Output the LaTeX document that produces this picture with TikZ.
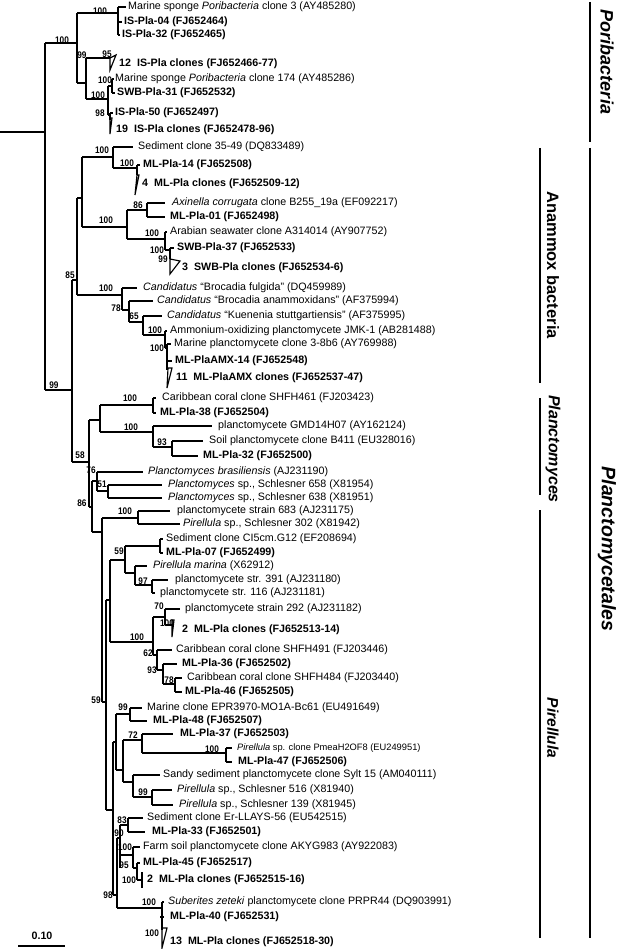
\documentclass[tikz,border=0pt]{standalone}
\usepackage{fontspec}
\setmainfont{Liberation Sans}
\newfontfamily\bsfam[FakeStretch=0.86]{Liberation Sans}
\newcommand\ND[6]{\coordinate (#1) at (#2,#5);\draw[br] (#2,#3) -- (#2,#4);\draw[br] (#6,#5) -- (#1);}
\newcommand\LV[6]{\draw[br] (#2,#4) -- (#3,#4);\node[lf] (#1) at (#5,#4) {#6};}
\newcommand\LB[6]{\draw[br] (#2,#4) -- (#3,#4);\node[lfb] (#1) at (#5,#4) {#6};}
\newcommand\BS[3]{\node[bsl] at (#1,#2) {#3};}
\tikzset{
 br/.style={line width=1.15pt},
 lf/.style={anchor=west, inner sep=0pt, font=\fontsize{10.7}{12}\selectfont},
 lfb/.style={anchor=west, inner sep=0pt, font=\fontsize{10.7}{12}\selectfont\bfseries},
 bsl/.style={inner sep=0pt, font=\bsfam\bfseries\fontsize{9.6}{10}\selectfont},
 brk/.style={line width=2.5pt},
 clab/.style={rotate=-90, inner sep=0pt, font=\bfseries}
}
\begin{document}
\begin{tikzpicture}[x=1pt,y=-1pt]
\useasboundingbox (0,0) rectangle (627,949);
% root
\coordinate (root) at (0,132);
\draw[br] (root) -- (45,132);
\draw[br] (45,43) -- (45,390);
% ---------------- Poribacteria
\ND{A}{77}{13}{83}{43}{45} \BS{62}{40}{100}
\ND{A1}{118}{7}{35}{13}{77} \BS{100}{11}{100}
\LV{L1}{118}{126}{7}{128}{Marine sponge \textit{Poribacteria} clone 3 (AY485280)}
\LB{L2}{118}{122}{22}{124}{IS-Pla-04 (FJ652464)}
\LB{L3}{118}{120}{35}{122}{IS-Pla-32 (FJ652465)}
\ND{A2}{86}{58}{99}{83}{77} \BS{82}{55}{99}
\draw[br] (86,58) -- (110,58); \BS{107}{54}{95}
\draw[br] (110,58) -- (116,55) -- (110,70) -- cycle;
\node[lfb] (L4) at (119,64) {12\ \ IS-Pla clones (FJ652466-77)};
\ND{A3}{108}{86}{115}{99}{86} \BS{98}{95}{100}
\ND{A31}{112}{79}{93}{86}{108} \BS{105}{80}{100}
\LV{L5}{112}{114}{79}{115}{Marine sponge \textit{Poribacteria} clone 174 (AY485286)}
\LB{L6}{112}{115}{93}{117}{SWB-Pla-31 (FJ652532)}
\ND{A32}{110}{113}{120}{115}{108} \BS{100}{113}{98}
\LB{L7}{110}{113}{113}{115}{IS-Pla-50 (FJ652497)}
\draw[br] (110,118) -- (112,118) -- (110,134) -- cycle;
\node[lfb] (L8) at (116,130) {19\ \ IS-Pla clones (FJ652478-96)};
% ---------------- Anammox
\ND{P99}{72}{280}{462}{390}{45} \BS{54}{385}{99}
\ND{AN85}{77}{198}{295}{280}{72} \BS{70}{275}{85}
\ND{AN1}{82}{157}{227}{198}{77}
\ND{N1}{113}{147}{168}{157}{82} \BS{102}{150}{100}
\LV{L9}{113}{133}{147}{138}{Sediment clone 35-49 (DQ833489)}
\ND{N2}{137}{165}{175}{168}{113} \BS{127}{163}{100}
\LB{L10}{137}{140}{165}{143}{ML-Pla-14 (FJ652508)}
\draw[br] (137,175) -- (139,175) -- (135,195) -- cycle;
\node[lfb] (L11) at (142,184) {4\ \ ML-Pla clones (FJ652509-12)};
\ND{NAX}{127}{210}{239}{227}{82} \BS{106}{220}{100}
\ND{N86}{147}{203}{217}{210}{127} \BS{138}{205}{86}
\LV{L12}{147}{165}{203}{172}{\textit{Axinella corrugata} clone B255\_19a (EF092217)}
\LB{L13}{147}{165}{217}{170}{ML-Pla-01 (FJ652498)}
\ND{NAR}{165}{232}{250}{239}{127} \BS{152}{233}{100}
\LV{L14}{165}{167}{232}{170}{Arabian seawater clone A314014 (AY907752)}
\ND{NSW}{170}{248}{259}{250}{165} \BS{157}{250}{100}
\LB{L15}{170}{174}{248}{177}{SWB-Pla-37 (FJ652533)}
\draw[br] (170,259) -- (180,261) -- (170,274) -- cycle; \BS{163}{259}{99}
\node[lfb] (L16) at (182,268) {3\ \ SWB-Pla clones (FJ652534-6)};
\ND{B1}{122}{288}{310}{295}{77} \BS{106}{288}{100}
\LV{L17}{122}{137}{288}{143}{\textit{Candidatus} “Brocadia fulgida” (DQ459989)}
\ND{B2}{129}{301}{322}{310}{122} \BS{116}{308}{78}
\LV{L18}{129}{153}{301}{157}{\textit{Candidatus} “Brocadia anammoxidans” (AF375994)}
\ND{B3}{143}{316}{335}{322}{129} \BS{134}{316}{65}
\LV{L19}{143}{162}{316}{167}{\textit{Candidatus} “Kuenenia stuttgartiensis” (AF375995)}
\ND{B4}{165}{331}{348}{335}{143} \BS{155}{330}{100}
\LV{L20}{165}{167}{331}{170}{Ammonium-oxidizing planctomycete JMK-1 (AB281488)}
\ND{B5}{167}{344}{370}{348}{165} \BS{157}{348}{100}
\LV{L21}{167}{171}{344}{174}{Marine planctomycete clone 3-8b6 (AY769988)}
\LB{L22}{167}{172}{361}{175}{ML-PlaAMX-14 (FJ652548)}
\draw[br] (168,368) -- (172,368) -- (167,388) -- cycle;
\node[lfb] (L23) at (176,378) {11\ \ ML-PlaAMX clones (FJ652537-47)};
% ---------------- Planctomyces
\ND{P58}{89}{420}{507}{462}{72} \BS{80}{455}{58}
\ND{PA}{100}{405}{432}{420}{89}
\ND{PC1}{153}{398}{413}{405}{100} \BS{130}{398}{100}
\LV{L24}{153}{156}{398}{162}{Caribbean coral clone SHFH461 (FJ203423)}
\LB{L25}{153}{156}{413}{160}{ML-Pla-38 (FJ652504)}
\ND{PB}{153}{426}{447}{432}{100} \BS{131}{427}{100}
\LV{L26}{153}{212}{426}{218}{planctomycete GMD14H07 (AY162124)}
\ND{PD}{172}{441}{456}{447}{153} \BS{162}{442}{93}
\LV{L27}{172}{203}{441}{209}{Soil planctomycete clone B411 (EU328016)}
\LB{L28}{172}{198}{456}{203}{ML-Pla-32 (FJ652500)}
\ND{P86}{92}{481}{532}{507}{89} \BS{82}{503}{86}
\ND{P76}{97}{472}{491}{481}{92} \BS{91}{470}{76}
\LV{L29}{97}{143}{472}{148}{\textit{Planctomyces brasiliensis} (AJ231190)}
\ND{P51}{108}{485}{498}{491}{97} \BS{102}{484}{51}
\LV{L30}{108}{162}{485}{168}{\textit{Planctomyces} sp., Schlesner 658 (X81954)}
\LV{L31}{108}{162}{498}{168}{\textit{Planctomyces} sp., Schlesner 638 (X81951)}
% ---------------- Pirellula
\ND{Q}{102}{518}{702}{532}{92}
\ND{PP}{138}{511}{524}{518}{102} \BS{125}{511}{100}
\LV{L32}{138}{170}{511}{177}{planctomycete strain 683 (AJ231175)}
\LV{L33}{138}{180}{524}{183}{\textit{Pirellula} sp., Schlesner 302 (X81942)}
\ND{Q59}{106}{600}{810}{702}{102} \BS{96}{700}{59}
\ND{X1}{110}{560}{642}{600}{106}
\ND{S59}{125}{546}{573}{560}{110} \BS{119}{551}{59}
\ND{S1}{160}{539}{553}{546}{125}
\LV{L34}{160}{163}{539}{166}{Sediment clone CI5cm.G12 (EF208694)}
\LB{L35}{160}{163}{553}{166}{ML-Pla-07 (FJ652499)}
\ND{M}{135}{566}{585}{573}{125}
\LV{L36}{135}{147}{566}{153}{\textit{Pirellula marina} (X62912)}
\ND{M97}{152}{580}{593}{585}{135} \BS{143}{581}{97}
\LV{L37}{152}{168}{580}{175}{planctomycete str. 391 (AJ231180)}
\LV{L38}{152}{155}{593}{160}{planctomycete str. 116 (AJ231181)}
\ND{T100}{153}{617}{655}{642}{110} \BS{137}{637}{100}
\ND{T70}{165}{609}{625}{617}{153} \BS{159}{606}{70}
\LV{L39}{165}{180}{609}{185}{planctomycete strain 292 (AJ231182)}
\draw[br] (165,625) -- (172,625); \draw[br] (172,620) -- (174,620) -- (172,637) -- cycle; \BS{167}{623}{100}
\node[lfb] (L40) at (182,630) {2\ \ ML-Pla clones (FJ652513-14)};
\ND{W62}{157}{650}{670}{655}{153} \BS{148}{653}{62}
\LV{L41}{157}{172}{650}{176}{Caribbean coral clone SHFH491 (FJ203446)}
\ND{W93}{163}{664}{684}{670}{157} \BS{152}{670}{93}
\LB{L42}{163}{177}{664}{182}{ML-Pla-36 (FJ652502)}
\ND{W78}{175}{678}{692}{684}{163} \BS{169}{680}{78}
\LV{L43}{175}{182}{678}{187}{Caribbean coral clone SHFH484 (FJ203440)}
\LB{L44}{175}{182}{692}{185}{ML-Pla-46 (FJ652505)}
\ND{X2}{113}{742}{895}{810}{106}
\ND{V}{116}{714}{770}{742}{113}
\ND{V99}{130}{708}{721}{714}{116} \BS{123}{707}{99}
\LV{L45}{130}{142}{708}{147}{Marine clone EPR3970-MO1A-Bc61 (EU491649)}
\LB{L46}{130}{147}{721}{153}{ML-Pla-48 (FJ652507)}
\ND{U}{123}{740}{782}{770}{116}
\ND{U72}{142}{734}{753}{740}{123} \BS{133}{735}{72}
\LB{L47}{142}{173}{734}{180}{ML-Pla-37 (FJ652503)}
\ND{U100}{226}{748}{762}{753}{142} \BS{212}{749}{100}
\draw[br] (226,748) -- (232,748);
\node[anchor=west, inner sep=0pt, font=\fontsize{9.3}{11}\selectfont] (L48) at (237,748) {\textit{Pirellula} sp. clone PmeaH2OF8 (EU249951)};
\LB{L49}{226}{232}{762}{238}{ML-Pla-47 (FJ652506)}
\ND{R}{133}{775}{797}{782}{123}
\LV{L50}{133}{160}{775}{163}{Sandy sediment planctomycete clone Sylt 15 (AM040111)}
\ND{R99}{152}{790}{805}{797}{133} \BS{143}{792}{99}
\LV{L51}{152}{172}{790}{177}{\textit{Pirellula} sp., Schlesner 516 (X81940)}
\LV{L52}{152}{173}{805}{179}{\textit{Pirellula} sp., Schlesner 139 (X81945)}
\ND{YG}{117}{838}{908}{895}{113} \BS{108}{895}{98}
\ND{Y90}{120}{825}{868}{838}{117} \BS{119}{833}{90}
\ND{Y83}{128}{818}{832}{825}{120} \BS{122}{820}{83}
\LV{L53}{128}{143}{818}{147}{Sediment clone Er-LLAYS-56 (EU542515)}
\LB{L54}{128}{145}{832}{152}{ML-Pla-33 (FJ652501)}
\ND{Z100}{133}{847}{868}{855}{120} \BS{125}{847}{100}
\LV{L55}{133}{140}{847}{143}{Farm soil planctomycete clone AKYG983 (AY922083)}
\ND{Z95}{137}{863}{880}{868}{133} \BS{124}{865}{95}
\LB{L56}{137}{140}{863}{143}{ML-Pla-45 (FJ652517)}
\draw[br] (137,880) -- (142,880); \draw[br] (142,872) -- (142,888); \BS{129}{880}{100}
\node[lfb] (L57) at (147,880) {2\ \ ML-Pla clones (FJ652515-16)};
\ND{SU}{162}{902}{930}{908}{117} \BS{149}{902}{100}
\LV{L58}{162}{164}{902}{168}{\textit{Suberites zeteki} planctomycete clone PRPR44 (DQ903991)}
\LB{L59}{160}{164}{917}{170}{ML-Pla-40 (FJ652531)}
\draw[br] (162,928) -- (167,928) -- (162,948) -- cycle; \BS{152}{933}{100}
\node[lfb] (L60) at (170,942) {13\ \ ML-Pla clones (FJ652518-30)};
% ---------------- scale bar
\node[inner sep=0pt, font=\fontsize{10.7}{12}\selectfont\bfseries] (sc) at (42,936) {0.10};
\coordinate (sb1) at (18,946); \coordinate (sb2) at (65,946);
\draw[br] (sb1) -- (sb2);
% ---------------- clade brackets
\coordinate (k1a) at (590,2); \coordinate (k1b) at (590,142);
\draw[brk] (k1a) -- (k1b);
\node[clab, font=\fontsize{18}{20}\selectfont\bfseries\itshape] (c1) at (607,62) {Poribacteria};
\coordinate (k2a) at (540,148); \coordinate (k2b) at (540,383);
\draw[brk] (k2a) -- (k2b);
\node[clab, font=\fontsize{16.5}{18}\selectfont\bfseries] (c2) at (553,265) {Anammox bacteria};
\coordinate (k3a) at (540,398); \coordinate (k3b) at (540,495);
\draw[brk] (k3a) -- (k3b);
\node[clab, font=\fontsize{16}{18}\selectfont\bfseries\itshape] (c3) at (553,449) {Planctomyces};
\coordinate (k4a) at (540,510); \coordinate (k4b) at (540,938);
\draw[brk] (k4a) -- (k4b);
\node[clab, font=\fontsize{15.5}{18}\selectfont\bfseries\itshape] (c4) at (553,728) {Pirellula};
\coordinate (k5a) at (590,148); \coordinate (k5b) at (590,938);
\draw[brk] (k5a) -- (k5b);
\node[clab, font=\fontsize{19.5}{22}\selectfont\bfseries\itshape] (c5) at (607,549) {Planctomycetales};
\end{tikzpicture}
\end{document}
